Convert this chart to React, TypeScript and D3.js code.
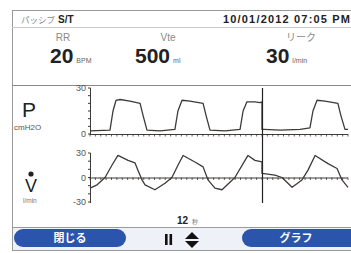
import React from 'react';
import * as d3 from 'd3';

// waveform samples (time in s)
const pressureTimes = [0, 0.93, 1.07, 1.21, 1.4, 1.86, 2.33, 2.47, 2.65, 3.26, 3.95, 4.09, 4.28, 4.65, 5.26, 5.4, 5.58, 6.28, 6.98, 7.12, 7.3, 7.67, 7.91, 8.0, 8.0, 8.09, 8.84, 9.77, 10.23, 10.37, 10.56, 10.93, 11.53, 11.67, 11.86, 12];
const pressureValues = [2, 2.5, 15, 22, 22.5, 21.5, 20, 12, 2.5, 2, 3, 15, 22, 21.5, 20, 12, 2.5, 2, 3, 15, 21, 21, 20.5, 21, 3, 3, 2.5, 3, 4, 15, 22, 21.5, 20, 12, 3, 3];

const flowTimes = [0, 0.33, 0.7, 1.02, 1.3, 1.77, 2.09, 2.23, 2.42, 2.56, 3.02, 3.49, 3.81, 4.09, 4.33, 4.88, 5.26, 5.49, 5.81, 6.14, 6.74, 7.21, 7.35, 7.67, 8.0, 8.0, 8.6, 8.93, 9.4, 9.86, 10.14, 10.47, 11.07, 11.49, 11.72, 12];
const flowValues = [-13, -9, 0, 15, 27, 21, 18, 9, -3, -9, -15, -7, 0, 15, 27, 19, 13, -3, -13, -15, 0, 21, 27, 21, 19, 5, 3, 0, -12, -3, 9, 27, 17, 11, -3, -12];

const sweepSeconds = 12;
const cursorTime = 8.0;
const pressureTicks = [0, 30];
const flowTicks = [-30, 0, 30];

const readoutLabels = ['RR', 'Vte', 'リーク'];
const readoutValues = ['20', '500', '30'];
const readoutUnits = ['BPM', 'ml', 'l/min'];

const W = 351;
const H = 253;
const SANS = '"Liberation Sans", Arial, sans-serif';
const JP = '"Noto Sans CJK JP", sans-serif';
const LINE = '#3d3a38';

export default function App() {
  const x = d3.scaleLinear().domain([0, sweepSeconds]).range([90, 348]);
  const yP = d3.scaleLinear().domain([0, 30]).range([134, 88]);
  const yF = d3.scaleLinear().domain([-30, 30]).range([202, 153]);

  const pLine = d3.line<number>()
    .x((_, i) => x(pressureTimes[i]))
    .y((d) => yP(d));
  const fLine = d3.line<number>()
    .x((_, i) => x(flowTimes[i]))
    .y((d) => yF(d));

  const xTicks = d3.range(0, sweepSeconds + 0.001, 0.25);
  const labelX = [63, 168, 301];
  const valueX = [50, 135, 266];

  return (
    <div style={{ position: 'fixed', left: 0, top: 0 }}>
      <svg width={W} height={H} style={{ display: 'block', background: '#fff' }}>
        {/* frame */}
        <rect x={12.5} y={10.5} width={345} height={240} fill="#fff" stroke="#9a9a9a" />
        <line x1={12} x2={351} y1={27.5} y2={27.5} stroke="#c8c8c8" />
        <line x1={12} x2={351} y1={85.5} y2={85.5} stroke="#8a8a8a" />

        {/* header */}
        <text x={21} y={23} fontFamily={JP} fontSize={8.5} fill="#8a8a8a">パッシブ</text>
        <text x={58} y={23} fontFamily={SANS} fontSize={10} fontWeight="bold" fill="#222">S/T</text>
        <text x={223} y={23} fontFamily={SANS} fontSize={11} fontWeight="bold" fill="#222" textLength={127} lengthAdjust="spacing">10/01/2012 07:05 PM</text>

        {/* readouts */}
        {readoutLabels.map((l, i) => (
          <text key={l} x={labelX[i]} y={41} textAnchor="middle" fontFamily={i === 2 ? JP : SANS} fontSize={10} fill="#8a8a8a">{l}</text>
        ))}
        {readoutValues.map((v, i) => (
          <text key={v + i} x={valueX[i]} y={63} fontFamily={SANS} fontSize={21} fontWeight="bold" fill="#222">
            {v}
            <tspan dx={3} fontSize={7} fontWeight="normal" fill="#666">{readoutUnits[i]}</tspan>
          </text>
        ))}

        {/* channel labels */}
        <text x={22} y={117} fontFamily={SANS} fontSize={21} fill="#222">P</text>
        <text x={14} y={130} fontFamily={SANS} fontSize={8} fill="#555">cmH2O</text>
        <circle cx={31} cy={174} r={2.6} fill="#222" />
        <text x={25} y={192} fontFamily={SANS} fontSize={18} fill="#222">V</text>
        <text x={23} y={203} fontFamily={SANS} fontSize={6.5} fill="#777">l/min</text>

        {/* pressure axes */}
        <line x1={90.5} x2={90.5} y1={88} y2={134} stroke={LINE} />
        {d3.range(0, 31, 5).map((t) => (
          <line key={'pt' + t} x1={88} x2={90.5} y1={yP(t)} y2={yP(t)} stroke={LINE} />
        ))}
        {pressureTicks.map((t) => (
          <text key={'pl' + t} x={86} y={yP(t) + 3} textAnchor="end" fontFamily={SANS} fontSize={9} fill="#555">{t}</text>
        ))}
        <line x1={90} x2={348} y1={yP(0) + 0.5} y2={yP(0) + 0.5} stroke={LINE} />
        {xTicks.map((t) => (
          <line key={'px' + t} x1={x(t)} x2={x(t)} y1={yP(0)} y2={yP(0) + 2.5} stroke={LINE} strokeWidth={0.8} />
        ))}
        <path d={pLine(pressureValues) ?? ''} fill="none" stroke={LINE} strokeWidth={1.3} strokeLinejoin="round" />

        {/* flow axes */}
        <line x1={90.5} x2={90.5} y1={153} y2={203} stroke={LINE} />
        {d3.range(-30, 31, 10).map((t) => (
          <line key={'ft' + t} x1={88} x2={90.5} y1={yF(t)} y2={yF(t)} stroke={LINE} />
        ))}
        {flowTicks.map((t) => (
          <text key={'fl' + t} x={86} y={yF(t) + 3} textAnchor="end" fontFamily={SANS} fontSize={9} fill="#555">{t}</text>
        ))}
        <line x1={90} x2={348} y1={yF(0) + 0.5} y2={yF(0) + 0.5} stroke={LINE} />
        {xTicks.map((t) => (
          <line key={'fx' + t} x1={x(t)} x2={x(t)} y1={yF(0)} y2={yF(0) + 2.5} stroke={LINE} strokeWidth={0.8} />
        ))}
        <path d={fLine(flowValues) ?? ''} fill="none" stroke={LINE} strokeWidth={1.3} strokeLinejoin="round" />

        {/* sweep cursor */}
        <line x1={x(cursorTime) + 0.5} x2={x(cursorTime) + 0.5} y1={88} y2={203} stroke="#222" strokeWidth={1.2} />

        {/* time span */}
        <text x={177} y={224} fontFamily={SANS} fontSize={10} fontWeight="bold" fill="#222">12</text>
        <text x={192} y={224} fontFamily={JP} fontSize={6} fill="#777">秒</text>

        {/* bottom bar */}
        <rect x={13} y={227} width={338} height={23} fill="#eef2f8" />
        <line x1={12} x2={351} y1={227.5} y2={227.5} stroke="#9a9a9a" />
        <rect x={14} y={229} width={112} height={18} rx={9} fill="#2b55ac" />
        <text x={70} y={242} textAnchor="middle" fontFamily={JP} fontSize={11} fontWeight="bold" fill="#fff">閉じる</text>
        <rect x={242} y={229} width={120} height={18} rx={9} fill="#2b55ac" />
        <text x={296} y={242} textAnchor="middle" fontFamily={JP} fontSize={11} fontWeight="bold" fill="#fff">グラフ</text>
        <rect x={165} y={234} width={2.6} height={11} fill="#111" />
        <rect x={169.5} y={234} width={2.6} height={11} fill="#111" />
        <path d="M185,239 L192,232 L199,239 Z" fill="#111" />
        <path d="M185,241 L192,248 L199,241 Z" fill="#111" />
      </svg>
    </div>
  );
}
